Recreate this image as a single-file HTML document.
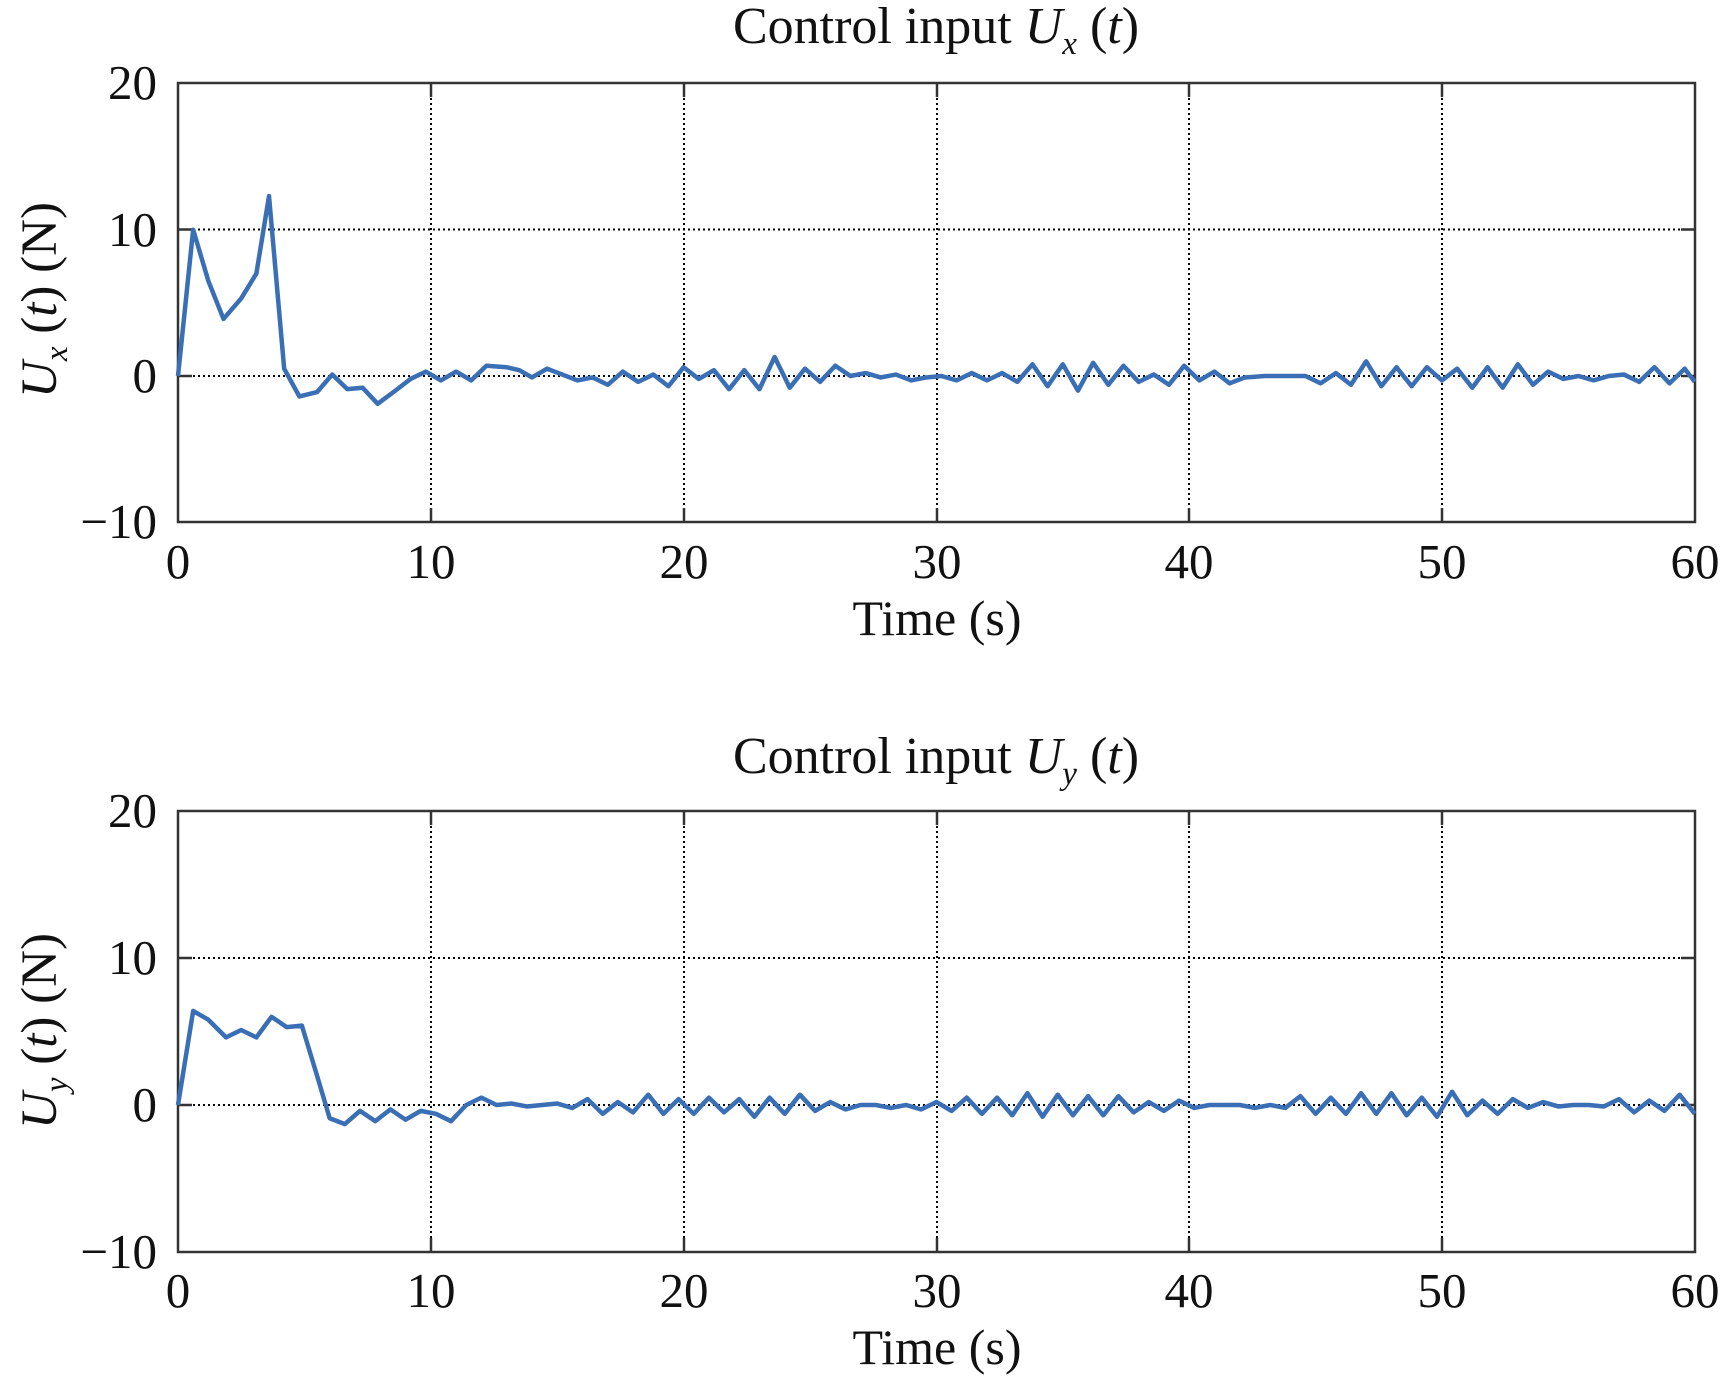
<!DOCTYPE html>
<html><head><meta charset="utf-8"><style>
html,body{margin:0;padding:0;background:#fff;}
svg{display:block;font-family:"Liberation Serif",serif;}
</style></head><body>
<svg width="1732" height="1382" viewBox="0 0 1732 1382" xmlns="http://www.w3.org/2000/svg">
<rect width="1732" height="1382" fill="#fff"/>

<!-- ============ TOP PLOT ============ -->
<g>
<text x="936" y="43" font-size="52" text-anchor="middle" fill="#111">Control input <tspan font-style="italic">U</tspan><tspan font-style="italic" font-size="33" dy="11">x</tspan><tspan dy="-11"> (</tspan><tspan font-style="italic">t</tspan>)</text>
<g stroke="#000" stroke-width="2" stroke-dasharray="2,3">
<line x1="431" y1="83" x2="431" y2="522"/><line x1="684" y1="83" x2="684" y2="522"/><line x1="937" y1="83" x2="937" y2="522"/><line x1="1189" y1="83" x2="1189" y2="522"/><line x1="1442" y1="83" x2="1442" y2="522"/>
<line x1="178" y1="229.5" x2="1695" y2="229.5"/><line x1="178" y1="376" x2="1695" y2="376"/>
</g>
<g stroke="#333" stroke-width="2.5">
<rect x="178" y="83" width="1517" height="439" fill="none"/>
<line x1="431" y1="83" x2="431" y2="97"/><line x1="684" y1="83" x2="684" y2="97"/><line x1="937" y1="83" x2="937" y2="97"/><line x1="1189" y1="83" x2="1189" y2="97"/><line x1="1442" y1="83" x2="1442" y2="97"/>
<line x1="431" y1="522" x2="431" y2="508"/><line x1="684" y1="522" x2="684" y2="508"/><line x1="937" y1="522" x2="937" y2="508"/><line x1="1189" y1="522" x2="1189" y2="508"/><line x1="1442" y1="522" x2="1442" y2="508"/>
<line x1="178" y1="229.5" x2="192" y2="229.5"/><line x1="178" y1="376" x2="192" y2="376"/>
<line x1="1695" y1="229.5" x2="1681" y2="229.5"/><line x1="1695" y1="376" x2="1681" y2="376"/>
</g>
<g font-size="49" fill="#111" text-anchor="end">
<text x="157" y="99">20</text><text x="157" y="246">10</text><text x="157" y="392">0</text><text x="157" y="538">−10</text>
</g>
<g font-size="49" fill="#111" text-anchor="middle">
<text x="178" y="578">0</text><text x="431" y="578">10</text><text x="684" y="578">20</text><text x="937" y="578">30</text><text x="1189" y="578">40</text><text x="1442" y="578">50</text><text x="1695" y="578">60</text>
<text x="937" y="635" font-size="50">Time (s)</text>
</g>
<text transform="translate(56,300) rotate(-90)" font-size="51" text-anchor="middle" fill="#111"><tspan font-style="italic">U</tspan><tspan font-style="italic" font-size="33" dy="11">x</tspan><tspan dy="-11"> (</tspan><tspan font-style="italic">t</tspan>) (N)</text>
<g transform="translate(178,376) scale(25.28,-14.63)">
<polyline fill="none" stroke="#3a6fb5" stroke-width="4.5" vector-effect="non-scaling-stroke" stroke-linejoin="round" points="
0,0 0.6,10 1.2,6.5 1.8,3.9 2.5,5.3 3.1,7 3.6,12.3 4.2,0.5 4.8,-1.4 5.5,-1.1 6.1,0.1 6.7,-0.9 7.3,-0.8 7.9,-1.9 8.6,-1.0 9.2,-0.2 9.8,0.3 10.4,-0.3 11,0.3 11.6,-0.3 12.2,0.7 13,0.6 13.5,0.4 14,-0.1 14.6,0.5 15.2,0.1 15.8,-0.3 16.4,-0.1 17,-0.6 17.6,0.3 18.2,-0.4 18.8,0.1 19.4,-0.7 20,0.6 20.6,-0.2 21.2,0.4 21.8,-0.9 22.4,0.4 23,-0.9 23.6,1.3 24.2,-0.8 24.8,0.5 25.4,-0.4 26,0.7 26.6,0 27.2,0.2 27.8,-0.1 28.4,0.1 29,-0.3 29.6,-0.1 30.2,0 30.8,-0.3 31.4,0.2 32,-0.3 32.6,0.2 33.2,-0.4 33.8,0.8 34.4,-0.7 35,0.8 35.6,-1.0 36.2,0.9 36.8,-0.6 37.4,0.7 38,-0.4 38.6,0.1 39.2,-0.6 39.8,0.7 40.4,-0.3 41,0.3 41.6,-0.5 42.2,-0.1 43,0 44,0 44.6,0 45.2,-0.5 45.8,0.2 46.4,-0.6 47,1.0 47.6,-0.7 48.2,0.6 48.8,-0.7 49.4,0.6 50,-0.3 50.6,0.5 51.2,-0.8 51.8,0.6 52.4,-0.8 53,0.8 53.6,-0.6 54.2,0.3 54.8,-0.2 55.4,0 56,-0.3 56.6,0 57.2,0.1 57.8,-0.4 58.4,0.6 59,-0.5 59.6,0.5 60,-0.4"/>
</g>
</g>

<!-- ============ BOTTOM PLOT ============ -->
<g>
<text x="936" y="773" font-size="52" text-anchor="middle" fill="#111">Control input <tspan font-style="italic">U</tspan><tspan font-style="italic" font-size="33" dy="11">y</tspan><tspan dy="-11"> (</tspan><tspan font-style="italic">t</tspan>)</text>
<g stroke="#000" stroke-width="2" stroke-dasharray="2,3">
<line x1="431" y1="811" x2="431" y2="1252"/><line x1="684" y1="811" x2="684" y2="1252"/><line x1="937" y1="811" x2="937" y2="1252"/><line x1="1189" y1="811" x2="1189" y2="1252"/><line x1="1442" y1="811" x2="1442" y2="1252"/>
<line x1="178" y1="958" x2="1695" y2="958"/><line x1="178" y1="1105" x2="1695" y2="1105"/>
</g>
<g stroke="#333" stroke-width="2.5">
<rect x="178" y="811" width="1517" height="441" fill="none"/>
<line x1="431" y1="811" x2="431" y2="825"/><line x1="684" y1="811" x2="684" y2="825"/><line x1="937" y1="811" x2="937" y2="825"/><line x1="1189" y1="811" x2="1189" y2="825"/><line x1="1442" y1="811" x2="1442" y2="825"/>
<line x1="431" y1="1252" x2="431" y2="1238"/><line x1="684" y1="1252" x2="684" y2="1238"/><line x1="937" y1="1252" x2="937" y2="1238"/><line x1="1189" y1="1252" x2="1189" y2="1238"/><line x1="1442" y1="1252" x2="1442" y2="1238"/>
<line x1="178" y1="958" x2="192" y2="958"/><line x1="178" y1="1105" x2="192" y2="1105"/>
<line x1="1695" y1="958" x2="1681" y2="958"/><line x1="1695" y1="1105" x2="1681" y2="1105"/>
</g>
<g font-size="49" fill="#111" text-anchor="end">
<text x="157" y="827">20</text><text x="157" y="974">10</text><text x="157" y="1121">0</text><text x="157" y="1268">−10</text>
</g>
<g font-size="49" fill="#111" text-anchor="middle">
<text x="178" y="1307">0</text><text x="431" y="1307">10</text><text x="684" y="1307">20</text><text x="937" y="1307">30</text><text x="1189" y="1307">40</text><text x="1442" y="1307">50</text><text x="1695" y="1307">60</text>
<text x="937" y="1364" font-size="50">Time (s)</text>
</g>
<text transform="translate(56,1031) rotate(-90)" font-size="51" text-anchor="middle" fill="#111"><tspan font-style="italic">U</tspan><tspan font-style="italic" font-size="33" dy="11">y</tspan><tspan dy="-11"> (</tspan><tspan font-style="italic">t</tspan>) (N)</text>
<g transform="translate(178,1105) scale(25.28,-14.7)">
<polyline fill="none" stroke="#3a6fb5" stroke-width="4.5" vector-effect="non-scaling-stroke" stroke-linejoin="round" points="
0,0 0.6,6.4 1.2,5.8 1.9,4.6 2.5,5.1 3.1,4.6 3.7,6.0 4.3,5.3 4.9,5.4 5.5,2.0 6.0,-0.9 6.6,-1.3 7.2,-0.4 7.8,-1.1 8.4,-0.3 9,-1.0 9.6,-0.4 10.2,-0.6 10.8,-1.1 11.4,0 12,0.5 12.6,0 13.2,0.1 13.8,-0.1 14.4,0 15,0.1 15.6,-0.2 16.2,0.4 16.8,-0.6 17.4,0.2 18,-0.5 18.6,0.7 19.2,-0.6 19.8,0.4 20.4,-0.6 21,0.5 21.6,-0.5 22.2,0.4 22.8,-0.8 23.4,0.5 24,-0.6 24.6,0.7 25.2,-0.4 25.8,0.2 26.4,-0.3 27,0 27.6,0 28.2,-0.2 28.8,0 29.4,-0.3 30,0.2 30.6,-0.4 31.2,0.5 31.8,-0.6 32.4,0.5 33,-0.7 33.6,0.8 34.2,-0.8 34.8,0.7 35.4,-0.7 36,0.6 36.6,-0.7 37.2,0.6 37.8,-0.5 38.4,0.2 39,-0.4 39.6,0.3 40.2,-0.2 40.8,0 41.4,0 42,0 42.6,-0.2 43.2,0 43.8,-0.2 44.4,0.6 45,-0.6 45.6,0.5 46.2,-0.6 46.8,0.8 47.4,-0.6 48,0.8 48.6,-0.7 49.2,0.5 49.8,-0.8 50.4,0.9 51,-0.7 51.6,0.3 52.2,-0.6 52.8,0.4 53.4,-0.2 54,0.2 54.6,-0.1 55.2,0 55.8,0 56.4,-0.1 57,0.4 57.6,-0.5 58.2,0.3 58.8,-0.4 59.4,0.7 60,-0.6"/>
</g>
</g>
</svg>
</body></html>
